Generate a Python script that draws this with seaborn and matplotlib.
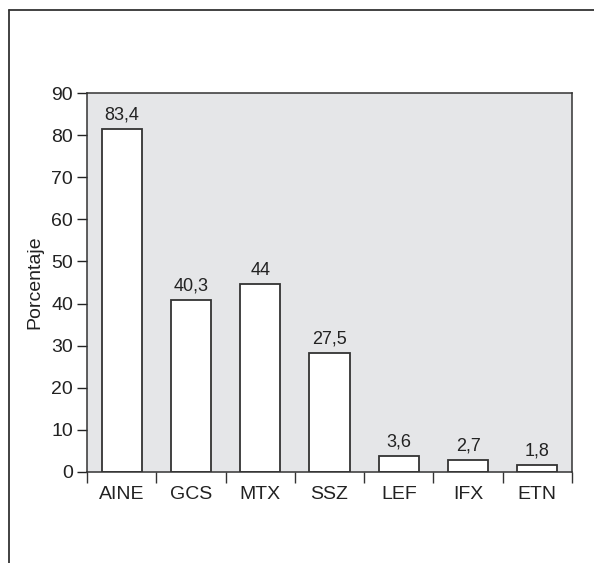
import numpy as np
import matplotlib
matplotlib.use('Agg')
from matplotlib import pyplot as plt
from matplotlib.lines import Line2D
import seaborn as sns

# data
farmacos = ['AINE', 'GCS', 'MTX', 'SSZ', 'LEF', 'IFX', 'ETN']
alturas = [81.4, 40.9, 44.6, 28.2, 3.9, 2.8, 1.7]
etiquetas = ['83,4', '40,3', '44', '27,5', '3,6', '2,7', '1,8']
yticks = [0, 10, 20, 30, 40, 50, 60, 70, 80, 90]

sns.set_style('ticks')
plt.rcParams['font.family'] = ['Liberation Sans', 'DejaVu Sans']

fig = plt.figure(figsize=(5.94, 5.63), dpi=100)
ax = fig.add_axes([87/594, 1-472/563, (572-87)/594, (472-93)/563])
ax.set_facecolor('#e5e6e8')

sns.barplot(x=farmacos, y=alturas, color='white', edgecolor='#333333',
            linewidth=1.3, width=0.58, saturation=1, ax=ax)

ax.bar_label(ax.containers[0], labels=etiquetas, padding=4, fontsize=13, color='#222222')

ax.set_xlim(-0.5, len(farmacos) - 0.5)
ax.set_ylim(0, 90)
ax.set_yticks(yticks)
ax.tick_params(axis='y', length=7, width=1, labelsize=14, colors='#222222', pad=3)
ax.tick_params(axis='x', which='major', length=0, labelsize=14, colors='#222222', pad=10)
ax.set_xticks(np.arange(-0.5, len(farmacos)), minor=True)
ax.tick_params(axis='x', which='minor', length=8, width=1, color='#333333')

for s in ax.spines.values():
    s.set_visible(True)
    s.set_color('#333333')
    s.set_linewidth(1.1)

ax.set_xlabel('')
ax.set_ylabel('Porcentaje', fontsize=14, color='#222222', labelpad=6)

# marco de la figura (solo arriba e izquierda visibles)
fig.add_artist(Line2D([9/594, 1], [1-10/563, 1-10/563], color='#333333', lw=1.3))
fig.add_artist(Line2D([9/594, 9/594], [0, 1-10/563], color='#333333', lw=1.3))

plt.savefig('out.png', dpi=100)
plt.close()
